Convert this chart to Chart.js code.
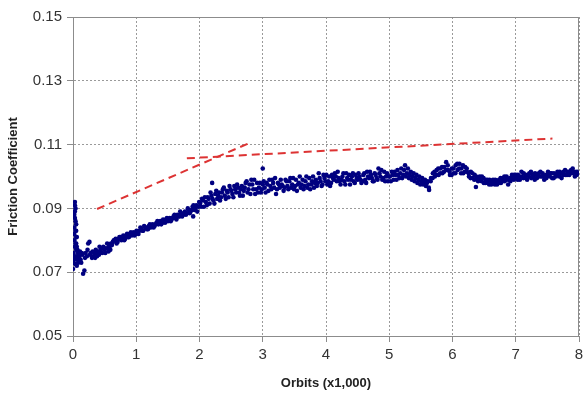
<!DOCTYPE html>
<html>
<head>
<meta charset="utf-8">
<script src="https://cdn.jsdelivr.net/npm/chart.js@4/dist/chart.umd.min.js"></script>
<style>
  html, body { margin: 0; padding: 0; background: #fff; }
  #wrap { width: 583px; height: 396px; }
</style>
</head>
<body>
<div id="wrap"><canvas id="friction-chart"></canvas></div>
<script>
const runInPoints = [
  [0.00, 0.071], [0.01, 0.073], [0.01, 0.076], [0.02, 0.080], [0.02, 0.084], [0.02, 0.088],
  [0.02, 0.082], [0.02, 0.075], [0.03, 0.087], [0.03, 0.078],
  [0.03, 0.091], [0.03, 0.092], [0.03, 0.089], [0.03, 0.074], [0.04, 0.086], [0.04, 0.083],
  [0.04, 0.079], [0.04, 0.0725], [0.04, 0.090], [0.05, 0.077], [0.05, 0.081], [0.05, 0.085],
  [0.05, 0.083], [0.05, 0.079], [0.06, 0.078], [0.06, 0.081],
  [0.06, 0.075], [0.06, 0.072], [0.07, 0.074], [0.07, 0.077], [0.08, 0.076], [0.08, 0.073],
  [0.09, 0.075], [0.10, 0.075], [0.11, 0.0765], [0.12, 0.074], [0.13, 0.073], [0.14, 0.076],
  [0.15, 0.0755], [0.16, 0.0695], [0.18, 0.0705], [0.19, 0.0745],
  [0.20, 0.076], [0.22, 0.075], [0.23, 0.077], [0.24, 0.079], [0.26, 0.0795], [0.27, 0.0755],
  [0.28, 0.076], [0.30, 0.0745], [0.31, 0.0765],
  [0.32, 0.075], [0.34, 0.076], [0.35, 0.0745], [0.36, 0.077], [0.37, 0.076], [0.38, 0.075],
  [0.40, 0.0765], [0.41, 0.0755], [0.42, 0.078], [0.43, 0.0765],
  [0.44, 0.077], [0.46, 0.076], [0.47, 0.0775], [0.48, 0.078], [0.50, 0.077], [0.51, 0.076],
  [0.52, 0.0775], [0.54, 0.079], [0.55, 0.0775],
  [0.56, 0.0765], [0.57, 0.0785], [0.58, 0.078], [0.59, 0.077], [0.60, 0.079]
];

const risePoints = [
  [0.63, 0.0795], [0.66, 0.080], [0.69, 0.079],
  [0.72, 0.0805], [0.75, 0.081], [0.78, 0.0805], [0.81, 0.080], [0.84, 0.0815], [0.87, 0.081],
  [0.90, 0.082], [0.93, 0.0815], [0.96, 0.0825], [0.99, 0.082],
  [1.02, 0.0825], [1.05, 0.083], [1.08, 0.0835], [1.11, 0.083], [1.14, 0.084], [1.17, 0.0835],
  [1.20, 0.0845], [1.23, 0.084], [1.26, 0.085], [1.29, 0.0845], [1.32, 0.0855], [1.35, 0.085],
  [1.38, 0.086], [1.41, 0.0855], [1.44, 0.086], [1.47, 0.0865], [1.50, 0.086], [1.53, 0.087],
  [1.56, 0.0865], [1.59, 0.0875], [1.62, 0.087], [1.65, 0.088], [1.68, 0.0875], [1.71, 0.0885],
  [1.74, 0.088], [1.77, 0.089], [1.80, 0.0885], [1.83, 0.0895], [1.86, 0.089], [1.89, 0.0905],
  [1.90, 0.0875], [1.92, 0.0895], [1.95, 0.091], [1.98, 0.0905], [2.01, 0.0915], [2.04, 0.093],
  [2.07, 0.0905], [2.10, 0.092], [2.13, 0.0935], [2.16, 0.0915], [2.19, 0.094], [2.20, 0.098],
  [2.22, 0.0925], [2.25, 0.0945], [2.28, 0.093], [2.31, 0.095], [2.34, 0.0935], [2.37, 0.096],
  [2.40, 0.094], [2.43, 0.0955], [2.46, 0.0935], [2.49, 0.096], [2.52, 0.0945], [2.55, 0.097],
  [2.58, 0.095], [2.61, 0.0965], [2.64, 0.094], [2.67, 0.097], [2.70, 0.0955], [2.73, 0.098],
  [2.76, 0.095], [2.79, 0.0975], [2.82, 0.099], [2.85, 0.096], [2.88, 0.0945], [2.91, 0.098],
  [2.94, 0.0965], [2.97, 0.095], [3.00, 0.0975], [3.00, 0.1025]
];

const riseScatter = [
  [0.615, 0.0785], [0.645, 0.080], [0.675, 0.0805], [0.705, 0.0795], [0.735, 0.081], [0.765, 0.080],
  [0.795, 0.0815], [0.825, 0.0805], [0.855, 0.082], [0.885, 0.081], [0.915, 0.0825], [0.945, 0.082],
  [0.975, 0.0815], [1.005, 0.083], [1.035, 0.082], [1.065, 0.084], [1.095, 0.083], [1.125, 0.0845],
  [1.155, 0.084], [1.185, 0.0835], [1.215, 0.085], [1.245, 0.0845], [1.275, 0.084], [1.305, 0.085],
  [1.335, 0.086], [1.365, 0.0855], [1.395, 0.085], [1.425, 0.0865], [1.455, 0.0855], [1.485, 0.087],
  [1.515, 0.0865], [1.545, 0.086], [1.575, 0.087], [1.605, 0.088], [1.635, 0.0865], [1.665, 0.0875],
  [1.695, 0.089], [1.725, 0.0875], [1.755, 0.0885], [1.785, 0.088], [1.815, 0.090], [1.845, 0.0885],
  [1.875, 0.0895], [1.905, 0.091], [1.935, 0.090], [1.965, 0.089], [1.995, 0.092], [2.025, 0.0905],
  [2.055, 0.0925], [2.085, 0.0935], [2.115, 0.091], [2.145, 0.093], [2.175, 0.095], [2.205, 0.093],
  [2.235, 0.0915], [2.265, 0.0955], [2.295, 0.094], [2.325, 0.0925], [2.355, 0.095], [2.385, 0.0965],
  [2.415, 0.093], [2.445, 0.095], [2.475, 0.097], [2.505, 0.0955], [2.535, 0.0935], [2.565, 0.096],
  [2.595, 0.0975], [2.625, 0.095], [2.655, 0.096], [2.685, 0.094], [2.715, 0.0965], [2.745, 0.0985],
  [2.775, 0.096], [2.805, 0.0945], [2.835, 0.0975], [2.865, 0.099], [2.895, 0.096], [2.925, 0.095],
  [2.955, 0.098], [2.985, 0.096]
];

const plateauPoints = [
  [3.03, 0.0965], [3.06, 0.098], [3.09, 0.0955], [3.12, 0.097], [3.15, 0.099], [3.18, 0.0965],
  [3.21, 0.0945], [3.24, 0.098], [3.27, 0.0965], [3.30, 0.0975], [3.33, 0.0955], [3.36, 0.099],
  [3.39, 0.097], [3.42, 0.0985], [3.45, 0.0965], [3.48, 0.0995], [3.51, 0.097], [3.54, 0.0955],
  [3.57, 0.098], [3.60, 0.0965], [3.63, 0.099], [3.66, 0.097], [3.69, 0.100], [3.72, 0.0975],
  [3.75, 0.096], [3.78, 0.0985], [3.81, 0.0965], [3.84, 0.099], [3.87, 0.098], [3.90, 0.0995],
  [3.93, 0.097], [3.96, 0.1005], [3.99, 0.0985], [4.02, 0.0975], [4.05, 0.100], [4.08, 0.098],
  [4.11, 0.0995], [4.14, 0.101], [4.17, 0.0985], [4.20, 0.0995], [4.23, 0.0975], [4.26, 0.100],
  [4.29, 0.0985], [4.32, 0.101], [4.35, 0.099], [4.38, 0.0975], [4.41, 0.100], [4.44, 0.0985],
  [4.47, 0.1005], [4.50, 0.099], [4.53, 0.100], [4.56, 0.098], [4.59, 0.1005], [4.62, 0.099],
  [4.65, 0.1015], [4.68, 0.0995], [4.71, 0.1005], [4.74, 0.0985], [4.77, 0.101], [4.80, 0.0995],
  [4.83, 0.1025], [4.86, 0.100], [4.89, 0.099], [4.92, 0.1015], [4.95, 0.100], [4.98, 0.0985],
  [5.01, 0.100], [5.04, 0.1015], [5.07, 0.099], [5.10, 0.1005], [5.13, 0.102], [5.16, 0.0995],
  [5.19, 0.1025], [5.22, 0.1005], [5.25, 0.1035], [5.28, 0.101], [5.31, 0.0995], [5.34, 0.1015],
  [5.37, 0.100], [5.40, 0.0985], [5.43, 0.1005], [5.46, 0.099], [5.49, 0.0975], [5.52, 0.0995],
  [5.55, 0.098], [5.58, 0.097], [5.61, 0.0985], [5.63, 0.0958], [5.66, 0.0995], [5.69, 0.101],
  [5.72, 0.100], [5.75, 0.102], [5.78, 0.1005], [5.81, 0.1025], [5.84, 0.101], [5.87, 0.103],
  [5.90, 0.1045], [5.93, 0.102], [5.96, 0.1005], [5.99, 0.1025]
];

const plateauScatter = [
  [3.015, 0.0985], [3.045, 0.095], [3.075, 0.0975], [3.105, 0.099], [3.135, 0.096], [3.165, 0.098],
  [3.195, 0.0995], [3.225, 0.096], [3.255, 0.0975], [3.285, 0.099], [3.315, 0.097], [3.345, 0.0965],
  [3.375, 0.0985], [3.405, 0.096], [3.435, 0.0995], [3.465, 0.0975], [3.495, 0.096], [3.525, 0.099],
  [3.555, 0.0975], [3.585, 0.100], [3.615, 0.0975], [3.645, 0.096], [3.675, 0.0985], [3.705, 0.0965],
  [3.735, 0.0995], [3.765, 0.0975], [3.795, 0.100], [3.825, 0.098], [3.855, 0.097], [3.885, 0.101],
  [3.915, 0.0985], [3.945, 0.0975], [3.975, 0.0995], [4.005, 0.1005], [4.035, 0.0985], [4.065, 0.097],
  [4.095, 0.1005], [4.125, 0.099], [4.155, 0.100], [4.185, 0.1015], [4.215, 0.0985], [4.245, 0.099],
  [4.275, 0.101], [4.305, 0.0975], [4.335, 0.0995], [4.365, 0.1005], [4.395, 0.099], [4.425, 0.101],
  [4.455, 0.098], [4.485, 0.0995], [4.515, 0.101], [4.545, 0.099], [4.575, 0.0985], [4.605, 0.101],
  [4.635, 0.098], [4.665, 0.100], [4.695, 0.1015], [4.725, 0.0995], [4.755, 0.0985], [4.785, 0.1005],
  [4.815, 0.099], [4.845, 0.101], [4.875, 0.102], [4.905, 0.0995], [4.935, 0.0985], [4.965, 0.101],
  [4.995, 0.100], [5.025, 0.0985], [5.055, 0.1005], [5.085, 0.1015], [5.115, 0.099], [5.145, 0.1005],
  [5.175, 0.101], [5.205, 0.0995], [5.235, 0.102], [5.265, 0.100], [5.295, 0.1025], [5.325, 0.1005],
  [5.355, 0.099], [5.385, 0.101], [5.415, 0.0995], [5.445, 0.098], [5.475, 0.100], [5.505, 0.0985],
  [5.535, 0.0975], [5.565, 0.099], [5.595, 0.098], [5.625, 0.0965], [5.655, 0.0985], [5.685, 0.0995],
  [5.715, 0.1015], [5.745, 0.1005], [5.775, 0.1025], [5.805, 0.101], [5.835, 0.103], [5.865, 0.1015],
  [5.895, 0.102], [5.925, 0.1035], [5.955, 0.1015], [5.985, 0.1005]
];

const latePoints = [
  [6.02, 0.101], [6.05, 0.1035], [6.08, 0.102], [6.11, 0.104], [6.14, 0.1025], [6.17, 0.101],
  [6.20, 0.103], [6.23, 0.1015], [6.26, 0.100], [6.29, 0.1015], [6.32, 0.0995], [6.35, 0.1005],
  [6.37, 0.0967], [6.40, 0.099], [6.43, 0.100], [6.46, 0.0985], [6.49, 0.0995], [6.52, 0.098],
  [6.55, 0.099], [6.58, 0.0975], [6.61, 0.0985], [6.64, 0.099], [6.67, 0.0975], [6.70, 0.0985],
  [6.73, 0.098], [6.76, 0.0995], [6.79, 0.0985], [6.82, 0.100], [6.85, 0.099], [6.88, 0.0975],
  [6.91, 0.0995], [6.94, 0.1005], [6.97, 0.099], [7.00, 0.1005], [7.03, 0.099], [7.06, 0.100],
  [7.09, 0.1015], [7.12, 0.0995], [7.15, 0.1005], [7.18, 0.099], [7.21, 0.100], [7.24, 0.1015],
  [7.27, 0.1005], [7.30, 0.099], [7.33, 0.1005], [7.36, 0.100], [7.39, 0.1015], [7.42, 0.100],
  [7.45, 0.099], [7.48, 0.1005], [7.51, 0.1015], [7.54, 0.100], [7.57, 0.101], [7.60, 0.0995],
  [7.63, 0.1005], [7.66, 0.1015], [7.69, 0.100], [7.72, 0.101], [7.75, 0.1005], [7.78, 0.102],
  [7.81, 0.1005], [7.84, 0.1015], [7.87, 0.101], [7.90, 0.1025], [7.93, 0.1015], [7.96, 0.1005],
  [7.99, 0.101]
];

const lateScatter = [
  [6.015, 0.1025], [6.045, 0.101], [6.075, 0.104], [6.105, 0.1025], [6.135, 0.101], [6.165, 0.1035],
  [6.195, 0.1015], [6.225, 0.1025], [6.255, 0.101], [6.285, 0.0995], [6.315, 0.101], [6.345, 0.099],
  [6.375, 0.100], [6.405, 0.0985], [6.435, 0.099], [6.465, 0.100], [6.495, 0.098], [6.525, 0.099],
  [6.555, 0.098], [6.585, 0.099], [6.615, 0.0975], [6.645, 0.098], [6.675, 0.099], [6.705, 0.0975],
  [6.735, 0.099], [6.765, 0.098], [6.795, 0.0995], [6.825, 0.0985], [6.855, 0.100], [6.885, 0.099],
  [6.915, 0.0985], [6.945, 0.0995], [6.975, 0.1005], [7.005, 0.0995], [7.035, 0.1005], [7.065, 0.099],
  [7.095, 0.100], [7.125, 0.101], [7.155, 0.0995], [7.185, 0.1005], [7.215, 0.101], [7.245, 0.0995],
  [7.275, 0.100], [7.305, 0.101], [7.335, 0.0995], [7.365, 0.101], [7.395, 0.100], [7.425, 0.101],
  [7.455, 0.100], [7.485, 0.0995], [7.515, 0.1005], [7.545, 0.101], [7.575, 0.0995], [7.605, 0.101],
  [7.635, 0.100], [7.665, 0.1005], [7.695, 0.1015], [7.725, 0.0995], [7.755, 0.1015], [7.785, 0.1005],
  [7.815, 0.1015], [7.845, 0.1005], [7.875, 0.102], [7.905, 0.101], [7.935, 0.100], [7.965, 0.1015],
  [7.995, 0.101]
];

// the two hand-drawn dashed trend lines
const trendLineA = [[0.38, 0.0898], [2.79, 0.1105]];
const trendLineB = [[1.80, 0.1057], [7.58, 0.1119]];

const xTicks = [0, 1, 2, 3, 4, 5, 6, 7, 8];
const yTicks = [0.05, 0.07, 0.09, 0.11, 0.13, 0.15];

const toXY = (pairs) => pairs.map(([x, y]) => ({ x, y }));

// solid gray frame on top/right like the original plot box
const frameBox = {
  id: 'frameBox',
  beforeDatasetsDraw(chart) {
    const { ctx, chartArea: a } = chart;
    ctx.save();
    ctx.strokeStyle = '#8c8c8c';
    ctx.lineWidth = 1;
    ctx.setLineDash([]);
    ctx.beginPath();
    ctx.moveTo(a.left, a.top + 0.5);
    ctx.lineTo(a.right - 0.5, a.top + 0.5);
    ctx.lineTo(a.right - 0.5, a.bottom);
    ctx.stroke();
    ctx.restore();
  }
};

const tickFont = { family: 'Liberation Sans, Arial, sans-serif', size: 15 };
const titleFont = { family: 'Liberation Sans, Arial, sans-serif', size: 13, weight: 'bold' };

const allPoints = [].concat(runInPoints, risePoints, riseScatter, plateauPoints, plateauScatter, latePoints, lateScatter);

new Chart(document.getElementById('friction-chart'), {
  type: 'scatter',
  data: {
    datasets: [
      {
        data: toXY(allPoints),
        pointRadius: 2.3,
        pointBorderWidth: 0,
        pointBackgroundColor: '#000080',
        pointBorderColor: '#000080'
      },
      {
        type: 'line',
        data: toXY(trendLineA),
        borderColor: '#dd3333',
        borderWidth: 2,
        borderDash: [8, 5],
        pointRadius: 0,
        fill: false
      },
      {
        type: 'line',
        data: toXY(trendLineB),
        borderColor: '#dd3333',
        borderWidth: 2,
        borderDash: [8, 5],
        pointRadius: 0,
        fill: false
      }
    ]
  },
  options: {
    responsive: true,
    maintainAspectRatio: false,
    animation: false,
    layout: { padding: { top: 17, right: 3, left: 0, bottom: 0 } },
    plugins: {
      legend: { display: false },
      tooltip: { enabled: false }
    },
    scales: {
      x: {
        type: 'linear',
        min: 0,
        max: 8,
        afterBuildTicks: (scale) => { scale.ticks = xTicks.map(v => ({ value: v })); },
        afterFit: (scale) => { scale.height = 60; scale.paddingRight = 0; },
        ticks: { color: '#333', font: tickFont, padding: 4, maxRotation: 0 },
        grid: { color: '#9a9a9a', tickColor: '#8c8c8c', tickLength: 6 },
        border: { color: '#8c8c8c', dash: [2, 2] },
        title: {
          display: true,
          text: 'Orbits (x1,000)',
          color: '#222',
          font: titleFont,
          padding: { top: 0, bottom: 5 }
        }
      },
      y: {
        min: 0.05,
        max: 0.15,
        afterBuildTicks: (scale) => { scale.ticks = yTicks.map(v => ({ value: v })); },
        afterFit: (scale) => { scale.width = 73; },
        ticks: {
          color: '#333',
          font: tickFont,
          padding: 5,
          callback: (v) => v.toFixed(2)
        },
        grid: { color: '#9a9a9a', tickColor: '#8c8c8c', tickLength: 6 },
        border: { color: '#8c8c8c', dash: [2, 2] },
        title: {
          display: true,
          text: 'Friction Coefficient',
          color: '#222',
          font: titleFont,
          padding: { top: 6, bottom: 0 }
        }
      }
    }
  },
  plugins: [frameBox]
});
</script>
</body>
</html>
